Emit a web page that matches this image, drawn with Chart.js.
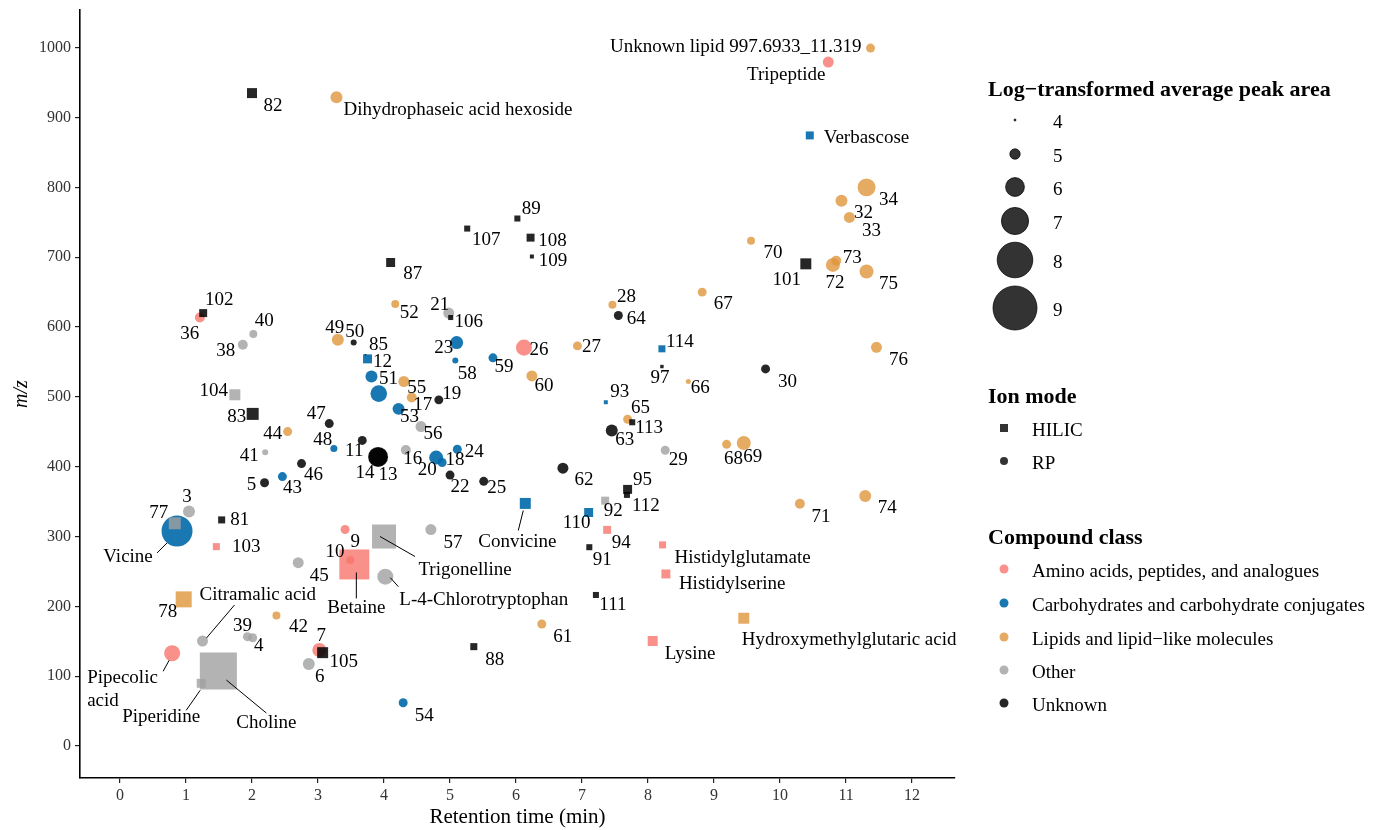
<!DOCTYPE html>
<html>
<head>
<meta charset="utf-8">
<script src="https://cdn.jsdelivr.net/npm/chart.js@4.4.1/dist/chart.umd.min.js"></script>
<style>
  html, body { margin: 0; padding: 0; background: #ffffff; }
  #wrap { width: 1380px; height: 830px; position: relative; }
</style>
</head>
<body>
<div id="wrap"><canvas id="chart" width="1380" height="830"></canvas></div>
<script>
// ---- data ---------------------------------------------------------------
const compoundIds = [
  'Vicine','77','3','81','103','78','Pipecolic acid','Citramalic acid','Choline','Piperidine',
  '39','4','42','45','6','7','105','36','102','40',
  '38','104','83','44','41','46','5','43','82','Dihydrophaseic acid hexoside',
  '87','52','21','106','49','50','85','12','23','58',
  '59','51','','55','17','19','53','47','56','48',
  '11','14','13','16','20','18','24','22','25','10',
  'Betaine','9','Trigonelline','L-4-Chlorotryptophan','57','88','54','107','89','108',
  '109','26','60','27','28','64','67','114','97','66',
  '93','65','113','63','29','62','95','112','92','110',
  'Convicine','94','91','Histidylglutamate','Histidylserine','111','61','Lysine','Hydroxymethylglutaric acid','68',
  '69','30','71','74','76','101','72','73','75','70',
  '32','33','34','Verbascose','Tripeptide','Unknown lipid 997.6933_11.319'
];

// retention time (min)
const retentionTimes = [
  0.864,0.83,1.045,1.54,1.46,0.965,0.79,1.25,1.49,1.23,
  1.93,2.01,2.37,2.70,2.86,3.02,3.07,1.21,1.26,2.02,
  1.86,1.74,2.01,2.54,2.20,2.75,2.19,2.46,2.00,3.28,
  4.10,4.17,4.98,5.01,3.30,3.54,3.72,3.75,5.10,5.08,
  5.65,3.81,3.92,4.30,4.42,4.83,4.22,3.17,4.56,3.24,
  3.67,3.91,3.91,4.33,4.79,4.88,5.11,5.00,5.51,3.41,
  3.55,3.49,4.00,4.02,4.71,5.36,4.29,5.26,6.02,6.22,
  6.24,6.12,6.24,6.93,7.46,7.55,8.82,8.21,8.21,8.61,
  7.36,7.69,7.76,7.45,8.26,6.71,7.69,7.68,7.35,7.10,
  6.14,7.38,7.11,8.22,8.27,7.21,6.39,8.07,9.45,9.19,
  9.45,9.78,10.30,11.29,11.46,10.39,10.80,10.85,11.31,9.56,
  10.93,11.05,11.31,10.45,10.73,11.37
];

// m/z
const mzValues = [
  308,319,336,323.8,285.5,210,132.8,150.4,107.4,89.8,
  156.6,155,187,262.6,117.5,137.5,133.7,613.6,620,590,
  574.5,503,475.6,450.3,420.7,404.5,377,385.8,935,929,
  692.4,633,620,613.6,581.7,577.8,560,554.4,577.8,552,
  555.9,529,504.7,522,499,495.7,482.8,461.7,457.4,426,
  437.6,414,414,424,413,406,425,388,379,310,
  260,266.5,300,242.5,310,142.3,62,741,755.4,728,
  701,570.5,530,573,631.8,616.5,650,568.8,543.4,522,
  492.3,468,463.6,451.7,423.5,397.8,367.5,359.6,351.4,334.4,
  347.4,309.5,284.7,288,246.4,216.3,174.8,150.4,183,432,
  434,540,347,358,571,690.5,689,695,679.5,723.5,
  780.8,756.9,800,874.4,979.5,999.5
];

// log-transformed average peak area
const logPeakAreas = [
  7.45,5.19,5.19,4.60,4.60,5.67,5.67,5.07,8.17,4.83,
  4.83,4.83,4.71,5.07,5.19,5.43,5.07,4.95,4.71,4.71,
  4.95,5.07,5.19,4.83,4.48,4.83,4.83,4.83,4.95,5.19,
  4.83,4.71,5.07,4.36,5.19,4.48,4.00,4.83,5.31,4.48,
  4.83,5.19,5.74,5.07,4.95,4.83,5.19,4.83,5.07,4.60,
  4.83,6.00,6.14,4.95,5.43,4.83,4.83,4.83,4.83,4.83,
  7.33,4.71,6.62,5.67,5.07,4.60,4.83,4.48,4.48,4.71,
  4.24,5.67,5.07,4.83,4.71,4.83,4.83,4.60,4.17,4.36,
  4.24,4.83,4.48,5.19,4.83,5.07,4.83,4.48,4.71,4.83,
  5.07,4.71,4.48,4.60,4.83,4.48,4.83,4.95,5.07,4.83,
  5.43,4.83,4.95,5.19,5.07,5.07,5.43,4.95,5.43,4.71,
  5.19,5.07,5.90,4.71,5.07,4.83
];

// H = HILIC, R = RP
const ionModes = [
  'R','H','R','H','H','H','R','R','H','H',
  'R','R','R','R','R','R','H','R','H','R',
  'R','H','H','R','R','R','R','R','H','R',
  'H','R','R','H','R','R','H','H','R','R',
  'R','R','R','R','R','R','R','R','R','R',
  'R','R','R','R','R','R','R','R','R','R',
  'H','R','H','R','R','H','R','H','H','H',
  'H','R','R','R','R','R','R','H','H','R',
  'H','R','H','R','R','R','H','H','H','H',
  'H','H','H','H','H','H','R','H','H','R',
  'R','R','R','R','R','H','R','R','R','R',
  'R','R','R','H','R','R'
];

// A = amino acids, C = carbohydrates, L = lipids, O = other, U = unknown
const compoundClasses = [
  'C','O','O','U','A','L','A','O','O','O',
  'O','O','L','O','O','A','U','A','U','O',
  'O','O','U','L','O','U','U','C','U','L',
  'U','L','O','U','L','U','U','C','C','C',
  'C','C','C','L','L','U','C','U','O','C',
  'U','U','U','O','C','C','C','U','U','A',
  'A','A','O','O','O','U','C','U','U','U',
  'U','A','L','L','L','U','L','C','U','L',
  'C','L','U','U','O','U','U','U','O','C',
  'C','A','U','A','A','U','L','A','L','L',
  'L','U','L','L','L','U','L','L','L','L',
  'L','L','L','C','A','L'
];

const classCodes = ['A','C','L','O','U'];
const classNames = [
  'Amino acids, peptides, and analogues',
  'Carbohydrates and carbohydrate conjugates',
  'Lipids and lipid\u2212like molecules',
  'Other',
  'Unknown'
];
const ionModeCodes = ['H','R'];
const ionModeNames = ['HILIC','RP'];
const sizeLegendValues = [4,5,6,7,8,9];
const xTickValues = [0,1,2,3,4,5,6,7,8,9,10,11,12];
const yTickValues = [0,100,200,300,400,500,600,700,800,900,1000];

// ---- styling ------------------------------------------------------------
const FONT = '"Liberation Serif", "Times New Roman", serif';
const classColors = {
  A: 'rgba(248,118,109,0.8)',
  C: 'rgba(0,105,170,0.9)',
  L: 'rgba(224,150,60,0.8)',
  O: 'rgba(160,160,160,0.8)',
  U: 'rgba(0,0,0,0.85)'
};

// radius (px) of a point for a given log peak area
function sizeScale(v) { return 1 + 4.2 * (v - 4); }

// label placement relative to each point: [dx, dy, align, leader segment, wrap]
const labelPlacement = {
  '3':[-2,-14],'4':[6,8],'5':[-13,2],'6':[11,13],'7':[2,-14],'9':[5,-18],'10':[-10,22],
  '11':[-8,11],'12':[15,3],'13':[10,18],'14':[-13,16],'16':[7,9],'17':[11,7],'18':[13,-2],
  '19':[13,-6],'20':[-9,12],'21':[-9,-8],'22':[10,12],'23':[-13,5],'24':[17,3],'25':[13,7],
  '26':[15,2],'27':[14,1],'28':[14,-8],'29':[13,10],'30':[22,13],'32':[22,12],'33':[22,14],
  '34':[22,13],'36':[-10,16],'38':[-17,6],'39':[-5,-11],'40':[11,-13],'41':[-16,4],'42':[22,12],
  '43':[10,11],'44':[-15,2],'45':[21,13],'46':[12,11],'47':[-13,-10],'48':[-11,-9],'49':[-3,-12],
  '50':[1,-11],'51':[17,2],'52':[14,9],'53':[11,8],'54':[21,13],'55':[13,7],'56':[12,7],
  '57':[22,13],'58':[12,13],'59':[11,9],'60':[12,10],'61':[21,13],'62':[21,12],'63':[13,9],
  '64':[18,4],'65':[13,-11],'66':[12,7],'67':[21,12],'68':[7,15],'69':[9,14],'70':[22,12],
  '71':[21,13],'72':[2,18],'73':[16,-3],'74':[22,12],'75':[22,12],'76':[22,13],'77':[-16,-10],
  '78':[-16,13],'81':[18,0],'82':[21,13],'83':[-16,3],'85':[13,-10],'87':[22,12],'88':[21,13],
  '89':[14,-9],'91':[13,13],'92':[8,10],'93':[14,-10],'94':[14,13],'95':[15,-9],'97':[-2,11],
  '101':[-19,16],'102':[16,-13],'103':[30,0],'104':[-21,-4],'105':[21,9],'106':[18,4],
  '107':[19,11],'108':[22,3],'109':[21,5],'110':[-12,11],'111':[17,10],'112':[19,11],
  '113':[17,6],'114':[18,-7],
  'Vicine':[-49,26,'center',[-20,22,-10,12]],
  'Pipecolic acid':[-85,25,'left',[-3,7,-9,18],true],
  'Citramalic acid':[-3,-46,'left',[32,-36,4,-3]],
  'Choline':[48,52,'center',[8,9,48,42]],
  'Piperidine':[-40,34,'center',[-1,7,-15,27]],
  'Betaine':[2,44,'center',[2,8,2,34]],
  'Trigonelline':[81,33,'center',[-4,0,31,20]],
  'L-4-Chlorotryptophan':[14,23,'left',[5,1,13,10]],
  'Convicine':[-8,39,'center',[-2,7,-7,27]],
  'Histidylglutamate':[12,13,'left'],
  'Histidylserine':[13,10,'left'],
  'Lysine':[12,13,'left'],
  'Hydroxymethylglutaric acid':[-2,22,'left'],
  'Verbascose':[14,3,'left'],
  'Tripeptide':[-42,13,'center'],
  'Unknown lipid 997.6933_11.319':[-9,-1,'right'],
  'Dihydrophaseic acid hexoside':[7,13,'left']
};

const bubbleData = compoundIds.map((id, i) => ({
  x: retentionTimes[i],
  y: mzValues[i],
  r: sizeScale(logPeakAreas[i]) * (ionModes[i] === 'H' ? Math.SQRT2 : 1)
}));

// ---- plugins ------------------------------------------------------------
const pointLabels = {
  id: 'pointLabels',
  afterDatasetsDraw(chart) {
    const ctx = chart.ctx;
    const meta = chart.getDatasetMeta(0);
    ctx.save();
    ctx.font = '19px ' + FONT;
    ctx.fillStyle = '#000';
    ctx.strokeStyle = '#000';
    ctx.lineWidth = 1;
    ctx.textBaseline = 'middle';
    compoundIds.forEach((id, i) => {
      const place = labelPlacement[id];
      if (!place) return;
      const el = meta.data[i];
      const px = el.x, py = el.y;
      const leader = place[3];
      if (leader) {
        ctx.beginPath();
        ctx.moveTo(px + leader[0], py + leader[1]);
        ctx.lineTo(px + leader[2], py + leader[3]);
        ctx.stroke();
      }
      ctx.textAlign = place[2] || 'center';
      const lines = place[4] ? id.split(' ') : [id];
      lines.forEach((ln, k) => ctx.fillText(ln, px + place[0], py + place[1] + k * 23));
    });
    ctx.restore();
  }
};

const legendLayout = {
  titleX: 988, keyX: 1015, textX: 1053, smallKeyX: 1004, smallTextX: 1032,
  sizeTitleY: 90, sizeKeyY: [120,154,187,221,260,308],
  ionTitleY: 397, ionKeyY: [428,461],
  classTitleY: 538, classKeyY: [569,603,637,670,703]
};

const sideLegends = {
  id: 'sideLegends',
  afterDraw(chart) {
    const ctx = chart.ctx, L = legendLayout;
    ctx.save();
    ctx.textBaseline = 'middle';
    ctx.textAlign = 'left';
    const title = (t, y) => {
      ctx.font = 'bold 22px ' + FONT;
      ctx.fillStyle = '#000';
      ctx.fillText(t, L.titleX, y);
    };
    const item = (t, x, y) => {
      ctx.font = '19px ' + FONT;
      ctx.fillStyle = '#000';
      ctx.fillText(t, x, y + 3);
    };
    const dot = (x, y, r, fill) => {
      ctx.beginPath();
      ctx.arc(x, y, r, 0, Math.PI * 2);
      ctx.fillStyle = fill;
      ctx.fill();
    };

    title('Log\u2212transformed average peak area', L.sizeTitleY);
    sizeLegendValues.forEach((v, k) => {
      const y = L.sizeKeyY[k];
      dot(L.keyX, y, sizeScale(v), 'rgba(0,0,0,0.8)');
      ctx.lineWidth = 0.8;
      ctx.strokeStyle = 'rgba(0,0,0,0.9)';
      ctx.stroke();
      item(String(v), L.textX, y);
    });

    title('Ion mode', L.ionTitleY);
    ionModeNames.forEach((name, k) => {
      const y = L.ionKeyY[k];
      ctx.fillStyle = 'rgba(0,0,0,0.8)';
      if (ionModeCodes[k] === 'H') ctx.fillRect(L.smallKeyX - 4, y - 4, 8, 8);
      else dot(L.smallKeyX, y, 4, 'rgba(0,0,0,0.8)');
      item(name, L.smallTextX, y);
    });

    title('Compound class', L.classTitleY);
    classNames.forEach((name, k) => {
      const y = L.classKeyY[k];
      dot(L.smallKeyX, y, 4.5, classColors[classCodes[k]]);
      item(name, L.smallTextX, y);
    });
    ctx.restore();
  }
};

// ---- chart --------------------------------------------------------------
function noEdgePadding(s) {
  s.paddingTop = 0; s.paddingBottom = 0; s.paddingLeft = 0; s.paddingRight = 0;
}

function build() {
  new Chart(document.getElementById('chart'), {
    type: 'bubble',
    data: {
      datasets: [{
        data: bubbleData,
        backgroundColor: ctx => classColors[compoundClasses[ctx.dataIndex]],
        pointStyle: ctx => ionModes[ctx.dataIndex] === 'H' ? 'rect' : 'circle',
        borderWidth: 0,
        hoverBorderWidth: 0
      }]
    },
    options: {
      responsive: false,
      animation: false,
      devicePixelRatio: 1,
      layout: { autoPadding: false, padding: { top: 10, right: 425, bottom: 0, left: 0 } },
      plugins: { legend: { display: false }, tooltip: { enabled: false } },
      events: [],
      scales: {
        x: {
          type: 'linear', min: -0.606, max: 12.65,
          afterBuildTicks: s => { s.ticks = xTickValues.map(v => ({ value: v })); },
          afterFit: s => { s.height = 52; noEdgePadding(s); },
          grid: { drawOnChartArea: false, drawTicks: true, tickLength: 5, color: '#222', lineWidth: 1.2 },
          border: { display: true, color: '#000', width: 1.6 },
          ticks: { font: { family: FONT, size: 16 }, color: '#333', padding: 3, maxRotation: 0, autoSkip: false,
                   callback: v => String(v) },
          title: { display: true, text: 'Retention time (min)', font: { family: FONT, size: 21 }, color: '#000', padding: { top: 0, bottom: 0 } }
        },
        y: {
          type: 'linear', min: -45.8, max: 1054,
          afterBuildTicks: s => { s.ticks = yTickValues.map(v => ({ value: v })); },
          afterFit: s => { s.width = 80; noEdgePadding(s); },
          grid: { drawOnChartArea: false, drawTicks: true, tickLength: 5, color: '#222', lineWidth: 1.2 },
          border: { display: true, color: '#000', width: 1.6 },
          ticks: { font: { family: FONT, size: 16 }, color: '#333', padding: 4, autoSkip: false,
                   callback: v => String(v) },
          title: { display: true, text: 'm/z', font: { family: FONT, size: 20, style: 'italic' }, color: '#000', padding: { top: 10, bottom: 0 } }
        }
      }
    },
    plugins: [pointLabels, sideLegends]
  });
}

if (document.fonts && document.fonts.load) {
  Promise.all([
    document.fonts.load('19px "Liberation Serif"'),
    document.fonts.load('bold 22px "Liberation Serif"'),
    document.fonts.load('italic 20px "Liberation Serif"')
  ]).then(build, build);
} else {
  build();
}
</script>
</body>
</html>
